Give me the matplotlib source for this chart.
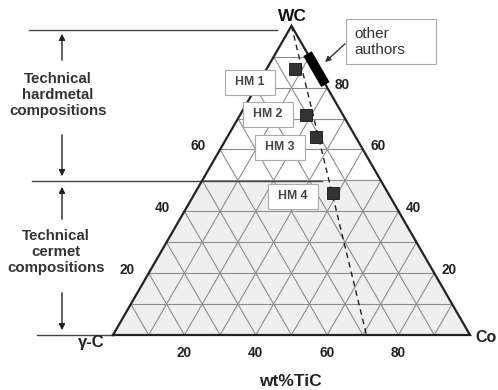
import numpy as np
import matplotlib
matplotlib.use("Agg")
import matplotlib.pyplot as plt
from matplotlib.patches import Polygon, Rectangle

plt.rcParams['font.family'] = ['Liberation Sans', 'DejaVu Sans']

# data (fractions): WC content and position along the base axis (towards Co)
samples = ['HM 1', 'HM 2', 'HM 3', 'HM 4']
wc = [0.86, 0.71, 0.64, 0.46]
co = [0.08, 0.185, 0.25, 0.385]
others_wc = [0.91, 0.81]          # "other authors" range on the WC-Co edge
dash_base = 0.71                  # dashed line from WC to this base value
edge_ticks = [20, 40, 60, 80]
left_ticks = [20, 40, 60]
base_ticks = [20, 40, 60, 80]

H = np.sqrt(3) / 2
S = 357.0            # pixels per unit
OX, OY = 113.0, 335.0


def tern(w, a):
    w = np.asarray(w, float)
    a = np.asarray(a, float)
    return a + w / 2, w * H


def px(x, y):
    # pixel position -> data units, for decorations only
    return (x - OX) / S, (OY - y) / S


fig = plt.figure(figsize=(4.98, 3.90), dpi=100)
ax = fig.add_axes([0, 0, 1, 1])
ax.set_xlim(px(0, 0)[0], px(498, 0)[0])
ax.set_ylim(px(0, 390)[1], px(0, 0)[1])
ax.axis('off')

# shaded cermet region (WC <= 50 %)
shade = [tern(0, 0), tern(0, 1), tern(0.5, 0.5), tern(0.5, 0)]
ax.add_patch(Polygon(shade, closed=True, fc='#efefef', ec='none', zorder=0))

# grid
gc, glw = '#8e8e8e', 0.8
for i in range(1, 10):
    f = i / 10
    x, y = tern([f, f], [0, 1 - f])
    ax.plot(x, y, color=gc, lw=glw, zorder=1)
    x, y = tern([0, 1 - f], [f, f])
    ax.plot(x, y, color=gc, lw=glw, zorder=1)
    x, y = tern([0, 1 - f], [1 - f, 0])
    ax.plot(x, y, color=gc, lw=glw, zorder=1)

# outline
x, y = tern([0, 0, 1, 0], [0, 1, 0, 0])
ax.plot(x, y, color='#222222', lw=1.6, zorder=3, solid_joinstyle='miter')

# guide lines on the left
for (x0, x1, yy) in [(29, 277, 30), (32, 322, 181), (37, 113, 335)]:
    a0, b0 = px(x0, yy)
    a1, b1 = px(x1, yy)
    ax.plot([a0, a1], [b0, b1], color='#444444', lw=1.0, zorder=2)

arr = dict(arrowstyle='-|>', color='#222222', lw=1.0, mutation_scale=9)
for (xx, ys, ye) in [(62, 63, 31), (62, 132, 179), (62, 222, 184), (62, 290, 333)]:
    ax.annotate('', xy=px(xx, ye), xytext=px(xx, ys), arrowprops=arr)

tkw = dict(ha='center', va='center', fontsize=10.8, fontweight='bold', color='#333333',
           linespacing=1.15)
ax.text(*px(58, 95), 'Technical\nhardmetal\ncompositions', **tkw)
ax.text(*px(56, 252), 'Technical\ncermet\ncompositions', **tkw)

# corner labels
ax.text(*px(292, 16), 'WC', ha='center', va='center', fontsize=12.5, fontweight='bold', color='#111111')
ax.text(*px(91, 343), 'γ-C', ha='center', va='center', fontsize=12, fontweight='bold', color='#222222')
ax.text(*px(486, 337), 'Co', ha='center', va='center', fontsize=11.5, fontweight='bold', color='#222222')
ax.text(*px(290, 382), 'wt%TiC', ha='center', va='center', fontsize=12.5, fontweight='bold', color='#222222')

# tick labels
lkw = dict(ha='center', va='center', fontsize=9.8, fontweight='bold', color='#222222')
for t in edge_ticks:
    x, y = tern(t / 100, 1 - t / 100)
    ax.text(x + 15 / S, y + 3 / S, str(t), **lkw)
for t in left_ticks:
    x, y = tern(t / 100, 0)
    ax.text(x - 22 / S, y + 3 / S, str(t), **lkw)
for t in base_ticks:
    x, y = tern(0, t / 100)
    ax.text(x, y - 18 / S, str(t), **lkw)

# dashed line from WC corner
x, y = tern([1, 0], [0, dash_base])
ax.plot(x, y, color='#222222', lw=1.0, ls=(0, (4, 3)), zorder=4)

# other authors bar
ow = np.array(others_wc)
x, y = tern(ow, 1 - ow)
ax.plot(x, y, color='#000000', lw=7, solid_capstyle='butt', zorder=5)

# samples
x, y = tern(wc, co)
ax.plot(x, y, ls='none', marker='s', ms=9, mfc='#333333', mec='#111111', mew=0.6, zorder=6)

# sample label boxes
boxes = [(250, 82), (268, 114), (280, 147), (293, 196)]
for name, (cx, cy) in zip(samples, boxes):
    bx, by = px(cx - 25, cy + 12.5)
    ax.add_patch(Rectangle((bx, by), 50 / S, 25 / S, fc='white', ec='#aaaaaa', lw=0.8, zorder=7))
    ax.text(*px(cx, cy), name, ha='center', va='center', fontsize=8.8, fontweight='bold',
            color='#444444', zorder=8)

# other authors box with arrow
bx, by = px(346, 64)
ax.add_patch(Rectangle((bx, by), 90 / S, 45 / S, fc='white', ec='#aaaaaa', lw=0.8, zorder=7))
ax.text(*px(354, 42), 'other\nauthors', ha='left', va='center', fontsize=11, color='#333333',
        linespacing=1.2, zorder=8)
ax.annotate('', xy=px(323, 64), xytext=px(347, 42),
            arrowprops=dict(arrowstyle='-|>', color='#333333', lw=1.0, mutation_scale=8), zorder=8)

fig.savefig('out.png', dpi=100)
